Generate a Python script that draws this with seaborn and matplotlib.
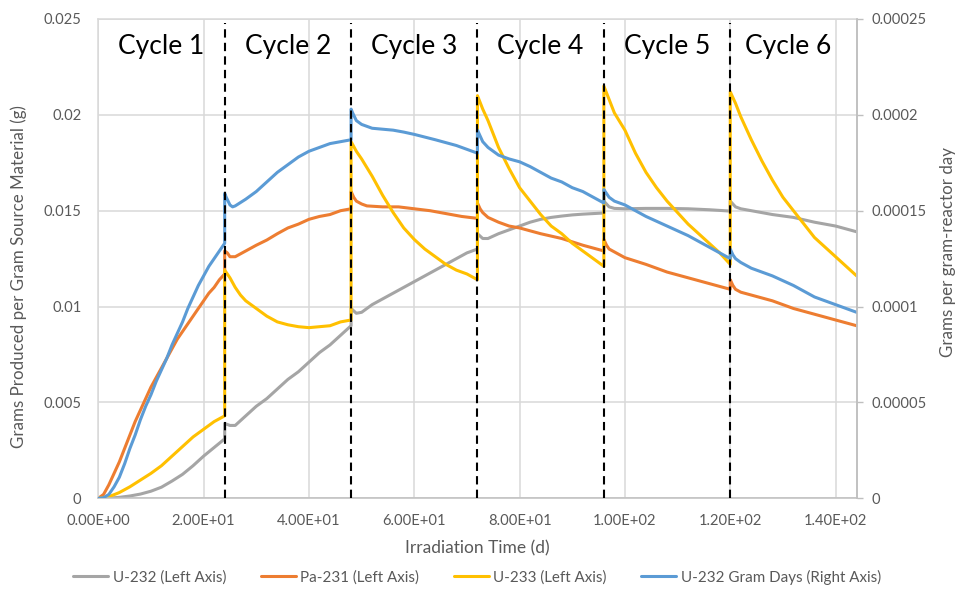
import matplotlib
matplotlib.use("Agg")
import matplotlib.pyplot as plt
import seaborn as sns

# ---- data: irradiation time (d) and produced mass per gram source material ----
cycle_starts = [24, 48, 72, 96, 120]
cycle_names = ["Cycle 1", "Cycle 2", "Cycle 3", "Cycle 4", "Cycle 5", "Cycle 6"]
cycle_mids = [12, 36, 60, 84, 108, 131]

u232_t = [0, 2, 4, 6, 8, 10, 12, 14, 16, 18, 20, 22, 24,
          24, 25, 26, 28, 30, 32, 34, 36, 38, 40, 42, 44, 46, 48,
          48, 49, 50, 52, 54, 56, 58, 60, 62, 64, 66, 68, 70, 72,
          72, 73, 74, 76, 78, 80, 82, 84, 86, 88, 90, 92, 94, 96,
          96, 97, 98, 100, 104, 108, 112, 116, 120,
          120, 121, 122, 124, 128, 132, 136, 140, 144]
u232_g = [0, 0.00001, 0.00005, 0.00012, 0.00022, 0.00037, 0.00058, 0.0009, 0.00125, 0.0017, 0.0022, 0.00265, 0.0031,
          0.0039, 0.0038, 0.0038, 0.0043, 0.0048, 0.0052, 0.0057, 0.0062, 0.0066, 0.0071, 0.0076, 0.0080, 0.0085, 0.0090,
          0.0099, 0.00965, 0.0097, 0.0101, 0.0104, 0.0107, 0.0110, 0.0113, 0.0116, 0.0119, 0.0122, 0.0125, 0.0128, 0.0130,
          0.0138, 0.01355, 0.01355, 0.0138, 0.0140, 0.0142, 0.0144, 0.01455, 0.01465, 0.01472, 0.01478, 0.01482, 0.01485, 0.01488,
          0.0155, 0.0152, 0.01512, 0.0151, 0.01512, 0.01512, 0.0151, 0.01505, 0.01498,
          0.0155, 0.0152, 0.0151, 0.0150, 0.0148, 0.01465, 0.0144, 0.0142, 0.0139]

pa231_t = [0, 1, 2, 3, 4, 5, 6, 7, 8, 9, 10, 11, 12, 13, 14, 15, 16, 17, 18, 19, 20, 21, 22, 23, 24,
           24, 24.5, 25, 26, 28, 30, 32, 34, 36, 38, 40, 42, 44, 46, 48,
           48, 48.5, 49, 50, 51, 54, 57, 60, 63, 66, 69, 72,
           72, 72.5, 73, 74, 76, 78, 80, 84, 88, 92, 96,
           96, 96.5, 97, 98, 100, 104, 108, 112, 116, 120,
           120, 120.5, 121, 122, 124, 128, 132, 136, 140, 144]
pa231_g = [0, 0.0002, 0.0007, 0.0013, 0.0019, 0.0026, 0.0033, 0.0040, 0.0046, 0.0052, 0.0058, 0.0063, 0.0068,
           0.0073, 0.0078, 0.0083, 0.0087, 0.0091, 0.0095, 0.0099, 0.0103, 0.0107, 0.0110, 0.0114, 0.0117,
           0.0129, 0.0128, 0.0126, 0.0126, 0.0129, 0.0132, 0.01347, 0.0138, 0.0141, 0.0143, 0.01455, 0.0147, 0.0148, 0.0150, 0.0151,
           0.0160, 0.0157, 0.0155, 0.01535, 0.01525, 0.0152, 0.0152, 0.0151, 0.0150, 0.01485, 0.0147, 0.0146,
           0.0154, 0.0151, 0.0149, 0.01465, 0.0144, 0.0142, 0.0141, 0.0138, 0.01355, 0.0132, 0.0129,
           0.0135, 0.0132, 0.0130, 0.01285, 0.01255, 0.0122, 0.0118, 0.0115, 0.0112, 0.0109,
           0.0114, 0.0111, 0.0109, 0.01075, 0.0106, 0.0103, 0.0099, 0.0096, 0.0093, 0.0090]

u233_t = [0, 2, 4, 6, 8, 10, 12, 14, 16, 18, 20, 22, 24,
          24, 25, 26, 27, 28, 30, 32, 34, 36, 38, 40, 42, 44, 46, 48,
          48, 49, 50, 52, 54, 56, 58, 60, 62, 64, 66, 68, 70, 72,
          72, 73, 74, 75, 76, 78, 80, 82, 84, 86, 88, 90, 92, 94, 96,
          96, 97, 98, 100, 102, 104, 106, 108, 110, 112, 114, 116, 118, 120,
          120, 121, 122, 123, 124, 126, 128, 130, 132, 134, 136, 138, 140, 142, 144]
u233_g = [0, 0.00008, 0.0003, 0.0006, 0.00095, 0.0013, 0.0017, 0.0022, 0.0027, 0.0032, 0.0036, 0.0040, 0.0043,
          0.0119, 0.0115, 0.0110, 0.0106, 0.0103, 0.0099, 0.0095, 0.0092, 0.00905, 0.00895, 0.0089, 0.00895, 0.0090, 0.0092, 0.0093,
          0.0186, 0.0181, 0.0177, 0.0168, 0.0158, 0.0149, 0.0141, 0.0135, 0.0130, 0.0126, 0.0122, 0.0119, 0.0117, 0.0114,
          0.0210, 0.0203, 0.0197, 0.0190, 0.0183, 0.0172, 0.0162, 0.0155, 0.0148, 0.0142, 0.0138, 0.0133, 0.0129, 0.0125, 0.0121,
          0.0215, 0.0208, 0.0201, 0.0192, 0.0180, 0.0170, 0.0162, 0.0155, 0.0149, 0.0143, 0.0138, 0.0133, 0.0128, 0.0122,
          0.0212, 0.0206, 0.0199, 0.0193, 0.0187, 0.0176, 0.0166, 0.0157, 0.0150, 0.0143, 0.0136, 0.0131, 0.0126, 0.0121, 0.0116]

gd_t = [0, 1, 2, 3, 4, 5, 6, 7, 8, 9, 10, 11, 12, 13, 14, 15, 16, 17, 18, 19, 20, 21, 22, 23, 24,
        24, 24.3, 25, 25.5, 26, 28, 30, 32, 34, 36, 38, 40, 42, 44, 46, 48,
        48, 48.3, 49, 50, 51, 52, 54, 56, 58, 60, 62, 64, 66, 68, 70, 72,
        72, 72.5, 73, 74, 76, 78, 80, 82, 84, 86, 88, 90, 92, 94, 96,
        96, 96.5, 97, 98, 100, 104, 108, 112, 116, 120,
        120, 120.5, 121, 122, 124, 128, 132, 136, 140, 144]
gd_val = [0, 0.0000003, 0.000002, 0.000006, 0.000011, 0.000018, 0.000026, 0.000033, 0.000041, 0.000048, 0.000054,
          0.000061, 0.000067, 0.000073, 0.000080, 0.000086, 0.000092, 0.000099, 0.000105, 0.000111, 0.000116,
          0.000121, 0.000125, 0.000129, 0.000133,
          0.000159, 0.000157, 0.000153, 0.000152, 0.0001525, 0.000156, 0.000160, 0.000165, 0.000170, 0.000174, 0.000178,
          0.000181, 0.000183, 0.000185, 0.000186, 0.000187,
          0.000203, 0.000201, 0.000197, 0.000195, 0.000194, 0.000193, 0.0001925, 0.000192, 0.000191, 0.0001898, 0.0001884,
          0.000187, 0.0001855, 0.000184, 0.000182, 0.000180,
          0.000192, 0.000189, 0.000186, 0.000183, 0.000179, 0.000177, 0.0001755, 0.000173, 0.000170, 0.000167, 0.000165,
          0.000162, 0.000160, 0.000157, 0.000154,
          0.000161, 0.000159, 0.000157, 0.000155, 0.000153, 0.000147, 0.000142, 0.000137, 0.000131, 0.000125,
          0.000130, 0.000127, 0.000125, 0.000123, 0.000120, 0.000116, 0.000111, 0.000105, 0.000101, 0.000097]

x_ticks = [0, 20, 40, 60, 80, 100, 120, 140]
left_ticks = [0, 0.005, 0.01, 0.015, 0.02, 0.025]
left_labels = ["0", "0.005", "0.01", "0.015", "0.02", "0.025"]
right_ticks = [0, 0.00005, 0.0001, 0.00015, 0.0002, 0.00025]
right_labels = ["0", "0.00005", "0.0001", "0.00015", "0.0002", "0.00025"]

# ---- styling ----
sns.set_theme(style="white")
plt.rcParams["font.family"] = ["Lato", "DejaVu Sans"]

GRAY, ORANGE, YELLOW, BLUE = "#A5A5A5", "#ED7D31", "#FFC000", "#5B9BD5"
TXT = "#595959"
GRID = "#D9D9D9"
AXLINE = "#BFBFBF"
LW = 2.2

fig = plt.figure(figsize=(9.58, 5.89), dpi=100)
ax1 = fig.add_axes([0.1026, 0.154, 0.7916, 0.8138])
ax2 = ax1.twinx()

line_kw = dict(estimator=None, sort=False, legend=False, linewidth=LW)
sns.lineplot(x=u232_t, y=u232_g, ax=ax1, color=GRAY, label="U-232 (Left Axis)", **line_kw)
sns.lineplot(x=pa231_t, y=pa231_g, ax=ax1, color=ORANGE, label="Pa-231 (Left Axis)", **line_kw)
sns.lineplot(x=u233_t, y=u233_g, ax=ax1, color=YELLOW, label="U-233 (Left Axis)", **line_kw)
sns.lineplot(x=gd_t, y=gd_val, ax=ax2, color=BLUE, label="U-232 Gram Days (Right Axis)", **line_kw)

# axes ranges and ticks
ax1.set_xlim(0, 144)
ax1.set_ylim(0, 0.025)
ax2.set_ylim(0, 0.00025)
ax1.set_xticks(x_ticks)
ax1.set_xticklabels([f"{v:.2E}" for v in x_ticks])
ax1.set_yticks(left_ticks)
ax1.set_yticklabels(left_labels)
ax2.set_yticks(right_ticks)
ax2.set_yticklabels(right_labels)

ax1.grid(True, color=GRID, linewidth=1.1)
ax1.set_axisbelow(True)
ax2.grid(False)

ax1.tick_params(axis="x", length=0, pad=11, labelsize=10.6, labelcolor=TXT)
ax1.tick_params(axis="y", length=0, pad=12, labelsize=10.6, labelcolor=TXT)
ax2.tick_params(axis="y", length=4, width=1, color=AXLINE, pad=7, labelsize=10.6, labelcolor=TXT)

for name, sp in ax1.spines.items():
    sp.set_color(GRID if name in ("left", "top") else AXLINE)
    sp.set_linewidth(1.1)
for name, sp in ax2.spines.items():
    sp.set_visible(name == "right")
    sp.set_color(AXLINE)
    sp.set_linewidth(1.1)

ax1.set_xlabel("Irradiation Time (d)", fontsize=12.5, color=TXT)
ax1.xaxis.set_label_coords(0.5, -0.104)
ax1.xaxis.label.set_va("center")
ax1.set_ylabel("Grams Produced per Gram Source Material (g)", fontsize=12.2, color=TXT)
ax1.yaxis.set_label_coords(-0.1046, 0.462)
ax1.yaxis.label.set_va("center")
ax2.set_ylabel("Grams per gram-reactor day", fontsize=12.2, color=TXT, rotation=90)
ax2.yaxis.set_label_coords(1.1204, 0.513)
ax2.yaxis.label.set_va("center")

# cycle boundaries and names
for xs in cycle_starts:
    ax2.axvline(xs, ymin=0, ymax=0.992, color="black", linewidth=1.5,
                linestyle=(0, (4, 2.5)), zorder=5)
for xm, name in zip(cycle_mids, cycle_names):
    ax2.text(xm, 0.942, name, transform=ax2.get_xaxis_transform(),
             ha="center", va="center", fontsize=19, color="black", zorder=6)

# legend beneath the plot
h1, l1 = ax1.get_legend_handles_labels()
h2, l2 = ax2.get_legend_handles_labels()
fig.legend(h1 + h2, l1 + l2, loc="center", bbox_to_anchor=(0.498, 0.0204), ncol=4,
           frameon=False, fontsize=10.9, handlelength=2.3, columnspacing=2.3,
           handletextpad=0.3, labelcolor=TXT)

fig.savefig("out.png", dpi=100)
